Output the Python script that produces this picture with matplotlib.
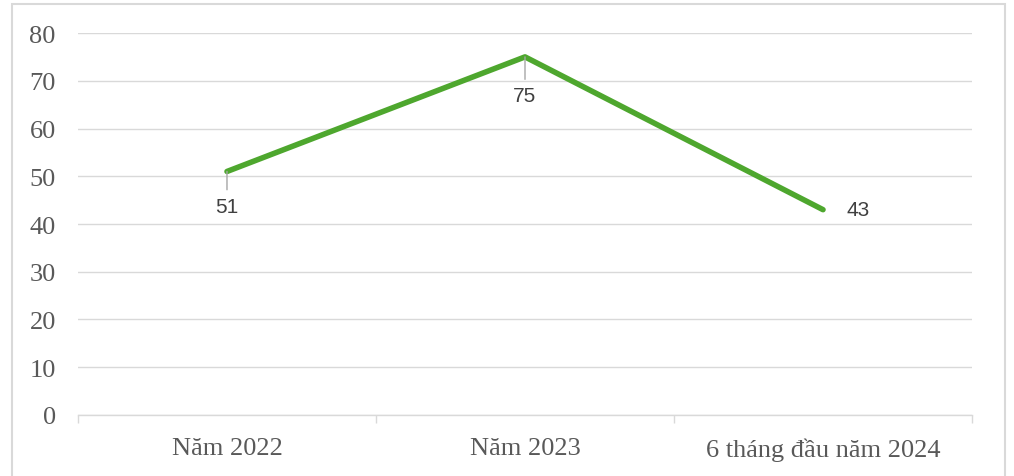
import matplotlib.pyplot as plt
from matplotlib.patches import Rectangle

# data
categories = ['Năm 2022', 'Năm 2023', '6 tháng đầu năm 2024']
values = [51, 75, 43]
yticks = [0, 10, 20, 30, 40, 50, 60, 70, 80]

fig = plt.figure(figsize=(10.14, 4.77), dpi=100)
ax = fig.add_axes([0.0769, 0.1279, 0.8817, 0.8008])

# outer chart border (bottom edge is cut off in the reference)
fig.patches.append(Rectangle((12 / 1014, -0.05), (1005 - 12) / 1014, 1.05 - 5 / 477,
                             transform=fig.transFigure, fill=False,
                             edgecolor='#d9d9d9', lw=1.5, clip_on=False))

x = list(range(len(categories)))
ax.plot(x, values, color='#4EA72E', lw=4.0, solid_capstyle='round', zorder=3)

# data labels with leader lines
offsets = [(0, -25), (0, -28), (25, 0)]
for xi, v, off in zip(x, values, offsets):
    leader = off[0] == 0
    ax.annotate(str(v), (xi, v), xytext=off, textcoords='offset points',
                ha='center', va='center', fontsize=15, color='#404040',
                family='Liberation Sans',
                arrowprops=dict(arrowstyle='-', color='#a6a6a6', lw=1,
                                shrinkA=3, shrinkB=0) if leader else None)

ax.set_xlim(-0.5, 2.5)
ax.set_ylim(0, 80)
ax.set_yticks(yticks)
ax.grid(axis='y', color='#d9d9d9', lw=1)
ax.set_axisbelow(True)

ax.set_xticks([-0.5, 0.5, 1.5, 2.5], minor=False)
ax.set_xticklabels([])
ax.set_xticks(x, minor=True)
ax.set_xticklabels(categories, minor=True)
ax.tick_params(axis='x', which='major', length=6, color='#d9d9d9', width=1)
ax.tick_params(axis='x', which='minor', length=0, pad=16)
ax.tick_params(axis='y', length=0, pad=16)
for lab in ax.get_xticklabels(minor=True) + ax.get_yticklabels():
    lab.set_family('Liberation Serif')
    lab.set_fontsize(19)
    lab.set_color('#595959')

for s in ['top', 'right', 'left']:
    ax.spines[s].set_visible(False)
ax.spines['bottom'].set_color('#d9d9d9')
ax.spines['bottom'].set_linewidth(1)

fig.savefig('out.png', dpi=100)
